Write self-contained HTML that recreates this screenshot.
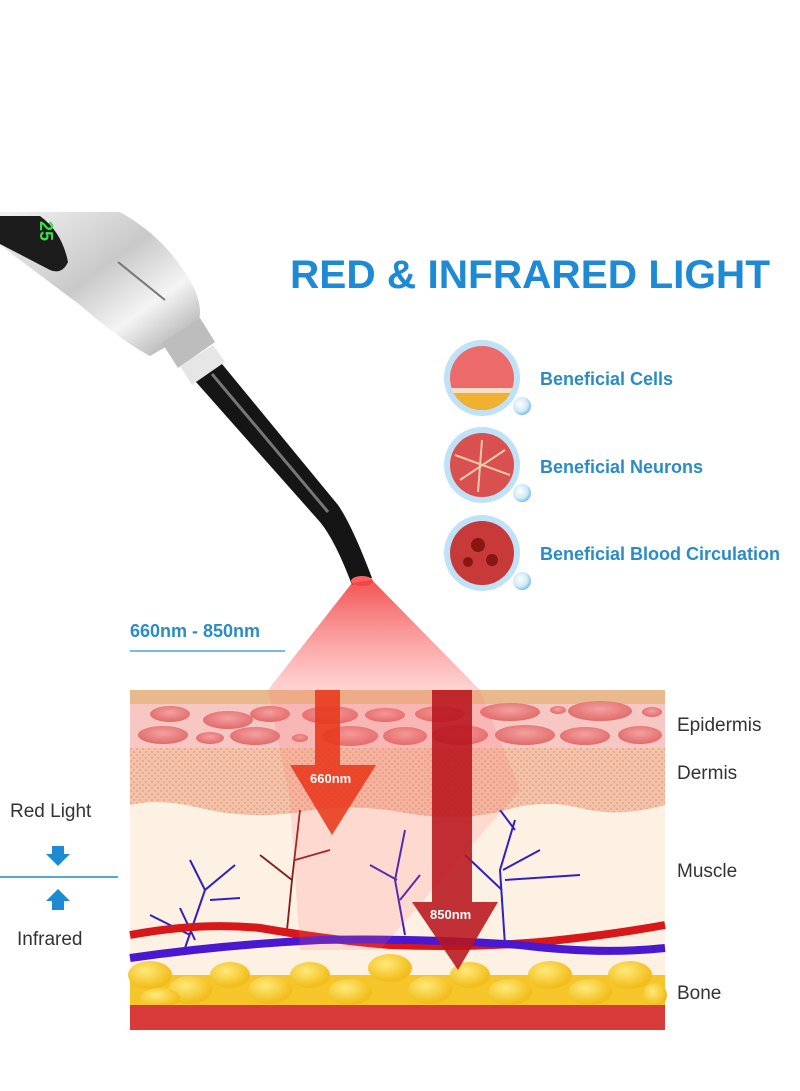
<!DOCTYPE html>
<html><head><meta charset="utf-8"><style>
html,body{margin:0;padding:0;background:#fff;}
svg{display:block;font-family:"Liberation Sans",sans-serif;}
</style></head><body>
<svg width="800" height="1091" viewBox="0 0 800 1091" xmlns="http://www.w3.org/2000/svg">
<defs>
<linearGradient id="silver" x1="0" y1="0" x2="1" y2="1">
<stop offset="0" stop-color="#f2f2f2"/><stop offset="0.45" stop-color="#c9c9c9"/><stop offset="0.7" stop-color="#f4f4f4"/><stop offset="1" stop-color="#9a9a9a"/></linearGradient>
<linearGradient id="cone" x1="0" y1="0" x2="0" y2="1">
<stop offset="0" stop-color="#f04040" stop-opacity="0.9"/><stop offset="1" stop-color="#ff8080" stop-opacity="0.35"/></linearGradient>
<radialGradient id="bub" cx="0.4" cy="0.4" r="0.6"><stop offset="0" stop-color="#ffffff"/><stop offset="0.7" stop-color="#cde9f8"/><stop offset="1" stop-color="#7fc0ea"/></radialGradient>
<radialGradient id="fat" cx="0.4" cy="0.35" r="0.6"><stop offset="0" stop-color="#ffe97a"/><stop offset="1" stop-color="#f2bd1a"/></radialGradient>
<radialGradient id="cell" cx="0.5" cy="0.4" r="0.6"><stop offset="0" stop-color="#f4a0a0"/><stop offset="1" stop-color="#e06a6a"/></radialGradient>
<pattern id="dots" width="6" height="6" patternUnits="userSpaceOnUse"><rect width="6" height="6" fill="#f3c2a8"/><circle cx="2" cy="2" r="0.8" fill="#d78a70"/><circle cx="5" cy="5" r="0.7" fill="#d78a70"/></pattern>
<clipPath id="c1"><circle cx="482" cy="378" r="32"/></clipPath>
</defs>

<text x="290" y="288" font-size="40" font-weight="bold" fill="#1e8ad3" textLength="480" lengthAdjust="spacingAndGlyphs">RED &amp; INFRARED LIGHT</text>

<!-- device -->
<g>
<path d="M0,212 L120,212 Q170,240 195,290 Q205,315 195,330 L150,356 Q120,340 80,305 L0,245 Z" fill="url(#silver)"/>
<path d="M0,216 L40,216 Q62,232 68,262 Q62,275 50,270 L0,244 Z" fill="#1c1c1c"/>
<text x="33" y="228" font-size="18" font-weight="bold" fill="#3adf4a" transform="rotate(90 40 228)">25</text>
<path d="M118,262 L165,300" stroke="#777" stroke-width="2"/>
<path d="M162,343 L200,318 L215,342 L178,368 Z" fill="#bdbdbd"/>
<path d="M180,366 L213,345 L225,362 L192,385 Z" fill="#e6e6e6"/>
<path d="M196,382 L222,364 L338,505 Q352,525 372,578 L352,585 Q335,540 320,522 Z" fill="#151515"/>
<path d="M212,374 L328,512" stroke="#777" stroke-width="3"/>
<ellipse cx="362" cy="581" rx="11" ry="5" fill="#ff6060"/>
</g>

<path d="M352,583 L372,580 L480,690 L268,690 Z" fill="url(#cone)"/>

<text x="130" y="637" font-size="18" font-weight="bold" fill="#2a8cc6">660nm - 850nm</text>
<line x1="130" y1="651" x2="285" y2="651" stroke="#4aa3d8" stroke-width="1.5"/>

<!-- icons -->
<g>
<circle cx="482" cy="378" r="38" fill="#bfe2f6"/>
<g clip-path="url(#c1)"><rect x="448" y="344" width="70" height="70" fill="#ec6a6a"/><rect x="448" y="392" width="70" height="24" fill="#f0b030"/><rect x="448" y="388" width="70" height="5" fill="#f8e0c8"/></g>
<circle cx="522" cy="406" r="9" fill="url(#bub)"/>
<circle cx="482" cy="465" r="38" fill="#bfe2f6"/><circle cx="482" cy="465" r="32" fill="#d85050"/>
<path d="M455,455 L510,475 M482,440 L478,492 M460,480 L505,450" stroke="#f0c8a8" stroke-width="2"/>
<circle cx="522" cy="493" r="9" fill="url(#bub)"/>
<circle cx="482" cy="553" r="38" fill="#bfe2f6"/><circle cx="482" cy="553" r="32" fill="#c83a3a"/>
<circle cx="478" cy="545" r="7" fill="#8a1515"/><circle cx="492" cy="560" r="6" fill="#8a1515"/><circle cx="468" cy="562" r="5" fill="#8a1515"/>
<circle cx="522" cy="581" r="9" fill="url(#bub)"/>
</g>
<g font-size="18" font-weight="bold" fill="#2a8cc6">
<text x="540" y="385">Beneficial Cells</text>
<text x="540" y="473">Beneficial Neurons</text>
<text x="540" y="560">Beneficial Blood Circulation</text>
</g>

<!-- skin diagram -->
<g>
<rect x="130" y="690" width="535" height="340" fill="#fdf1e4"/>
<rect x="130" y="690" width="535" height="14" fill="#e9b98e"/>
<rect x="130" y="704" width="535" height="44" fill="#f7c7c4"/>
<g fill="url(#cell)">
<ellipse cx="170" cy="714" rx="20" ry="8"/><ellipse cx="228" cy="720" rx="25" ry="9"/><ellipse cx="270" cy="714" rx="20" ry="8"/><ellipse cx="330" cy="715" rx="28" ry="9"/><ellipse cx="385" cy="715" rx="20" ry="7"/><ellipse cx="440" cy="714" rx="25" ry="8"/><ellipse cx="510" cy="712" rx="30" ry="9"/><ellipse cx="558" cy="710" rx="8" ry="4"/><ellipse cx="600" cy="711" rx="32" ry="10"/><ellipse cx="652" cy="712" rx="10" ry="5"/>
<ellipse cx="163" cy="735" rx="25" ry="9"/><ellipse cx="210" cy="738" rx="14" ry="6"/><ellipse cx="255" cy="736" rx="25" ry="9"/><ellipse cx="300" cy="738" rx="8" ry="4"/><ellipse cx="350" cy="736" rx="28" ry="10"/><ellipse cx="405" cy="736" rx="22" ry="9"/><ellipse cx="460" cy="735" rx="28" ry="10"/><ellipse cx="525" cy="735" rx="30" ry="10"/><ellipse cx="585" cy="736" rx="25" ry="9"/><ellipse cx="640" cy="735" rx="22" ry="9"/>
</g>
<path d="M130,748 L665,748 L665,805 Q620,818 580,808 Q540,798 500,812 Q450,822 400,812 Q350,803 300,812 Q250,820 200,808 Q160,798 130,805 Z" fill="url(#dots)"/>
<g fill="none" stroke="#3020c0" stroke-width="2">
<path d="M185,948 L205,890 L235,865 M205,890 L190,860 M210,900 L240,898 M195,940 L180,908 M190,935 L150,915"/>
<path d="M405,935 L395,880 L405,830 M397,880 L370,865 M400,900 L420,875"/>
<path d="M505,945 L500,870 L515,820 M502,890 L465,855 M503,870 L540,850 M505,880 L580,875 M515,830 L500,810"/>
</g>
<g fill="none" stroke="#8a1a1a" stroke-width="1.8">
<path d="M287,930 L292,880 L300,810 M292,880 L260,855 M295,860 L330,850"/>
</g>
<path d="M130,935 Q200,922 260,928 Q330,940 390,945 Q470,948 540,942 Q610,935 665,925" stroke="#d81818" stroke-width="8" fill="none"/>
<path d="M130,958 Q220,945 320,940 Q420,938 520,945 Q600,955 665,948" stroke="#4a18d0" stroke-width="8" fill="none"/>
<rect x="130" y="975" width="535" height="30" fill="#f5c52a"/>
<g fill="url(#fat)">
<ellipse cx="150" cy="975" rx="22" ry="14"/><ellipse cx="190" cy="990" rx="22" ry="14"/><ellipse cx="230" cy="975" rx="20" ry="13"/><ellipse cx="270" cy="990" rx="22" ry="14"/><ellipse cx="310" cy="975" rx="20" ry="13"/><ellipse cx="350" cy="992" rx="22" ry="13"/><ellipse cx="390" cy="968" rx="22" ry="14"/><ellipse cx="430" cy="990" rx="22" ry="14"/><ellipse cx="470" cy="975" rx="20" ry="13"/><ellipse cx="510" cy="992" rx="22" ry="13"/><ellipse cx="550" cy="975" rx="22" ry="14"/><ellipse cx="590" cy="992" rx="22" ry="13"/><ellipse cx="630" cy="975" rx="22" ry="14"/><ellipse cx="655" cy="995" rx="12" ry="12"/><ellipse cx="160" cy="998" rx="20" ry="10"/>
</g>
<rect x="130" y="1005" width="535" height="25" fill="#d83a3a"/>
<path d="M268,690 L480,690 L520,790 L380,950 L300,950 L290,800 Z" fill="#ff7070" opacity="0.18"/>
<path d="M315,690 L340,690 L340,765 L376,765 L332,835 L290,765 L315,765 Z" fill="#e8381c" opacity="0.88"/>
<text x="310" y="783" font-size="13" font-weight="bold" fill="#fff">660nm</text>
<path d="M432,690 L472,690 L472,902 L498,902 L458,970 L412,902 L432,902 Z" fill="#b8141c" opacity="0.88"/>
<text x="430" y="919" font-size="13" font-weight="bold" fill="#fff">850nm</text>
</g>

<g font-size="19" fill="#333">
<text x="677" y="731">Epidermis</text>
<text x="677" y="779">Dermis</text>
<text x="677" y="877">Muscle</text>
<text x="677" y="999">Bone</text>
</g>

<g font-size="19" fill="#333">
<text x="10" y="817">Red Light</text>
<text x="17" y="945">Infrared</text>
</g>
<path d="M52,846 L64,846 L64,854 L70,854 L58,866 L46,854 L52,854 Z" fill="#1e8ad3"/>
<line x1="0" y1="877" x2="118" y2="877" stroke="#1e8ad3" stroke-width="1.5"/>
<path d="M58,889 L70,901 L64,901 L64,910 L52,910 L52,901 L46,901 Z" fill="#1e8ad3"/>
</svg>
</body></html>
